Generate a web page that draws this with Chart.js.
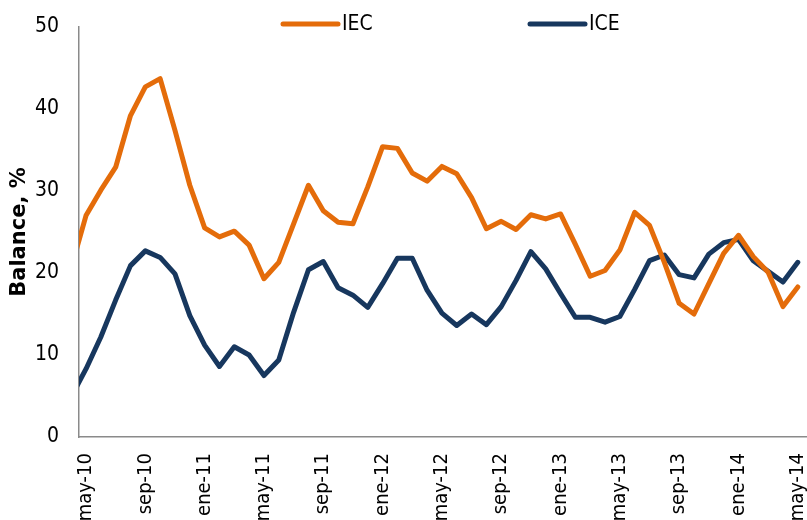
<!DOCTYPE html>
<html lang="es">
<head>
<meta charset="utf-8">
<script src="https://cdn.jsdelivr.net/npm/chart.js@4.4.1/dist/chart.umd.min.js"></script>
<style>
  html, body { margin: 0; padding: 0; background: #fff; }
</style>
</head>
<body>
<canvas id="myChart" width="807" height="520"></canvas>
<script>
    // monthly balances, abr-10 .. may-14 (abr-10 is only partly visible, cut by the axis)
    var months = ['abr-10', 'may-10', 'jun-10', 'jul-10', 'ago-10', 'sep-10', 'oct-10', 'nov-10', 'dic-10',
        'ene-11', 'feb-11', 'mar-11', 'abr-11', 'may-11', 'jun-11', 'jul-11', 'ago-11', 'sep-11', 'oct-11', 'nov-11', 'dic-11',
        'ene-12', 'feb-12', 'mar-12', 'abr-12', 'may-12', 'jun-12', 'jul-12', 'ago-12', 'sep-12', 'oct-12', 'nov-12', 'dic-12',
        'ene-13', 'feb-13', 'mar-13', 'abr-13', 'may-13', 'jun-13', 'jul-13', 'ago-13', 'sep-13', 'oct-13', 'nov-13', 'dic-13',
        'ene-14', 'feb-14', 'mar-14', 'abr-14', 'may-14'];

    var iec = [20.6, 27.0, 30.1, 32.9, 39.2, 42.7, 43.7, 37.4, 30.7,
        25.5, 24.4, 25.1, 23.4, 19.3, 21.3, 26.0, 30.7, 27.6, 26.2, 26.0, 30.5,
        35.4, 35.2, 32.2, 31.2, 33.0, 32.1, 29.2, 25.4, 26.3, 25.3, 27.1, 26.6,
        27.2, 23.5, 19.6, 20.3, 22.8, 27.4, 25.8, 21.3, 16.3, 15.0, 18.7, 22.4,
        24.6, 22.0, 20.1, 15.9, 18.3];

    var ice = [4.9, 8.3, 12.2, 16.7, 20.9, 22.7, 21.9, 19.9, 14.8,
        11.2, 8.6, 11.0, 10.0, 7.5, 9.4, 15.2, 20.4, 21.4, 18.2, 17.3, 15.8,
        18.7, 21.8, 21.8, 17.9, 15.1, 13.6, 15.0, 13.7, 15.9, 19.1, 22.6, 20.5,
        17.5, 14.6, 14.6, 14.0, 14.7, 18.0, 21.5, 22.2, 19.8, 19.4, 22.3, 23.7,
        24.1, 21.5, 20.2, 18.9, 21.3];

    var tickLabels = ['may-10', 'sep-10', 'ene-11', 'may-11', 'sep-11', 'ene-12', 'may-12',
        'sep-12', 'ene-13', 'may-13', 'sep-13', 'ene-14', 'may-14'];
    var yTicks = [0, 10, 20, 30, 40, 50];

    var seriesNames = ['IEC', 'ICE'];
    var seriesColors = ['#E46C0A', '#17375E'];

    var FONT = "'DejaVu Sans Condensed', 'DejaVu Sans', sans-serif";

    // x = month index, may-10 = 0
    function toPoints(values) {
        return values.map(function (v, i) {
            return { x: i - 1, y: v };
        });
    }

    // Excel-style legend sitting over the top of the plot
    var lineLegend = {
        id: 'lineLegend',
        afterDraw: function (chart) {
            var c = chart.ctx;
            var items = [{ x: 283 }, { x: 530 }];
            c.save();
            c.font = '21px ' + FONT;
            c.textBaseline = 'middle';
            c.textAlign = 'left';
            items.forEach(function (it, i) {
                c.strokeStyle = seriesColors[i];
                c.lineWidth = 5;
                c.lineCap = 'round';
                c.beginPath();
                c.moveTo(it.x, 24);
                c.lineTo(it.x + 55, 24);
                c.stroke();
                c.fillStyle = '#000';
                c.fillText(seriesNames[i], it.x + 59, 25);
            });
            c.restore();
        }
    };

    var ctx = document.getElementById('myChart').getContext('2d');
    var myChart = new Chart(ctx, {
        type: 'line',
        data: {
            datasets: seriesNames.map(function (name, i) {
                return {
                    label: name,
                    data: toPoints(i === 0 ? iec : ice),
                    borderColor: seriesColors[i],
                    backgroundColor: seriesColors[i],
                    borderWidth: 5,
                    pointRadius: 0,
                    tension: 0,
                    borderJoinStyle: 'round',
                    borderCapStyle: 'round',
                    clip: { left: 0, top: 5, right: 5, bottom: 5 }
                };
            })
        },
        options: {
            responsive: false,
            animation: false,
            devicePixelRatio: 1,
            layout: { padding: { top: 27, left: 0, right: 0, bottom: 0 } },
            plugins: {
                legend: { display: false },
                tooltip: { enabled: false }
            },
            scales: {
                x: {
                    type: 'linear',
                    min: -0.472,
                    max: 48.62,
                    grid: { display: false, drawTicks: false },
                    border: { display: true, color: '#8a8a8a', width: 1.5 },
                    ticks: {
                        stepSize: 4,
                        includeBounds: false,
                        autoSkip: false,
                        maxRotation: 90,
                        minRotation: 90,
                        padding: 16,
                        color: '#000',
                        font: { family: FONT, size: 20 },
                        callback: function (value) {
                            return tickLabels[value / 4];
                        }
                    },
                    afterFit: function (scale) {
                        scale.height = 83;
                        scale.paddingLeft = 0;
                        scale.paddingRight = 0;
                    }
                },
                y: {
                    min: 0,
                    max: 50,
                    grid: { display: false, drawTicks: false },
                    border: { display: true, color: '#8a8a8a', width: 1.5 },
                    afterBuildTicks: function (scale) {
                        scale.ticks = yTicks.map(function (v) { return { value: v }; });
                    },
                    ticks: {
                        padding: 20,
                        color: '#000',
                        font: { family: FONT, size: 21 }
                    },
                    title: {
                        display: true,
                        text: 'Balance, %',
                        color: '#000',
                        font: { family: "'DejaVu Sans', sans-serif", size: 21, weight: 'bold' },
                        padding: { top: 7, bottom: 0 }
                    },
                    afterFit: function (scale) {
                        scale.width = 79;
                        scale.paddingTop = 0;
                        scale.paddingBottom = 0;
                    }
                }
            }
        },
        plugins: [lineLegend]
    });
</script>
</body>
</html>
